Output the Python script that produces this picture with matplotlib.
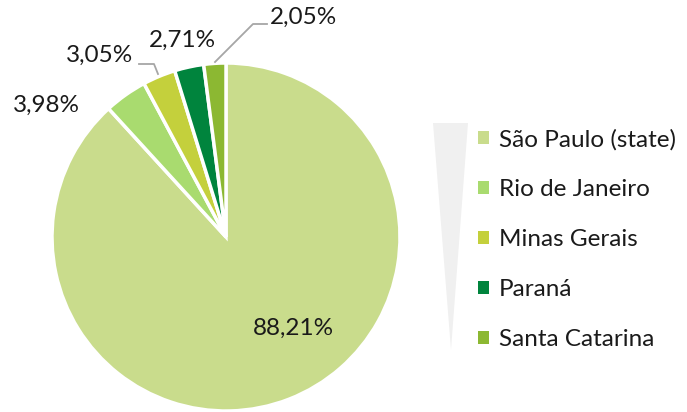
import matplotlib
matplotlib.use("Agg")
import matplotlib.pyplot as plt
from matplotlib.patches import Polygon

states = ["São Paulo (state)", "Rio de Janeiro", "Minas Gerais", "Paraná", "Santa Catarina"]
shares = [88.21, 3.98, 3.05, 2.71, 2.05]
labels = ["88,21%", "3,98%", "3,05%", "2,71%", "2,05%"]
colors = ["#c9dc8c", "#a9db6f", "#c4d03c", "#00843d", "#8cb832"]

W, H = 687, 412
fig = plt.figure(figsize=(W / 100, H / 100), dpi=100)
plt.rcParams['font.family'] = ['Lato', 'DejaVu Sans']

cx, cy, r = 226, 237, 174
ax = fig.add_axes([(cx - r) / W, (H - cy - r) / H, 2 * r / W, 2 * r / H])
wedges, _ = ax.pie(shares, colors=colors, startangle=90, counterclock=False, radius=1,
                   wedgeprops=dict(edgecolor="white", linewidth=2.5))
ax.set_xlim(-1, 1)
ax.set_ylim(-1, 1)
ax.set_aspect("equal")
ax.axis("off")

def px(x, y):
    return ((x - cx) / r, (cy - y) / r)

fs_lab = 17.5
fs_leg = 17.5
label_pos = [(293, 328), (46, 105), (100, 55), (182, 40), (304, 17)]
for lab, (x, y) in zip(labels, label_pos):
    ax.text(*px(x, y), lab, ha="center", va="center", fontsize=fs_lab, color="#1a1a1a", clip_on=False)

# leader lines
for pts in [[(139, 64), (154, 64), (158, 74)], [(267, 24), (253, 24), (215, 62)]]:
    xs, ys = zip(*[px(*p) for p in pts])
    ax.plot(xs, ys, color="#a6a6a6", lw=1.3, clip_on=False)

# overlay for legend decoration
ov = fig.add_axes([0, 0, 1, 1], zorder=-1)
ov.set_xlim(0, W)
ov.set_ylim(H, 0)
ov.axis("off")
ov.add_patch(Polygon([(433, 123), (468, 123), (451, 350)], closed=True, facecolor="#f0f0f0", edgecolor="none"))

leg = fig.legend(wedges, states, loc="upper left", bbox_to_anchor=(478 / W, 1 - 129 / H),
                 frameon=False, fontsize=fs_leg, handlelength=0.45, handleheight=0.45,
                 handletextpad=0.42, labelspacing=1.19, borderaxespad=0, borderpad=0)
for h in leg.legend_handles:
    h.set_edgecolor("none")
for t in leg.get_texts():
    t.set_color("#1a1a1a")

fig.savefig("out.png", dpi=100)
